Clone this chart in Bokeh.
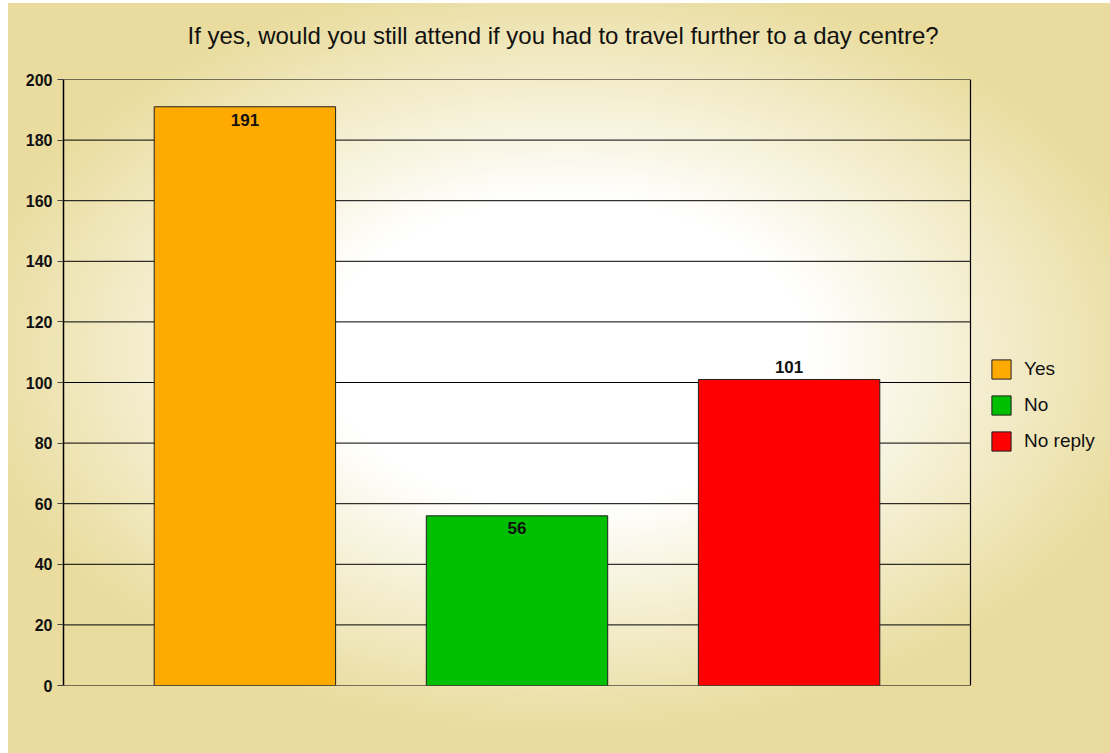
from bokeh.plotting import figure
from bokeh.models import ColumnDataSource, Range1d, FixedTicker, Legend, LegendItem
from bokeh.core.properties import value
from bokeh.embed import file_html
from bokeh.resources import INLINE

title_text = "If yes, would you still attend if you had to travel further to a day centre?"
categories = ["Yes", "No", "No reply"]
counts = [191, 56, 101]
bar_colors = ["#FFAA00", "#00BE00", "#FF0000"]
y_ticks = [0, 20, 40, 60, 80, 100, 120, 140, 160, 180, 200]
label_offsets = [13, 12, -12]

FONT = "Liberation Sans"

# layout (pixels) of the boxed chart area
FIG_W, FIG_H = 1110, 753
BOX_LEFT, BOX_RIGHT, BOX_TOP, BOX_BOTTOM = 63, 970, 79, 685
BAR_W = 2 / 3

x_pos = list(range(len(categories)))
x_lo = -BAR_W / 2 - (1 - BAR_W)
x_hi = (len(categories) - 1) - x_lo
px_per_unit = (BOX_RIGHT - BOX_LEFT) / (x_hi - x_lo)
x_end = x_hi + (FIG_W - BOX_RIGHT) / px_per_unit

source = ColumnDataSource(dict(
    x=x_pos, cat=categories, count=counts, color=bar_colors,
    label=[str(c) for c in counts], dy=label_offsets,
))

p = figure(
    width=FIG_W, height=FIG_H,
    x_range=Range1d(x_lo, x_end),
    y_range=Range1d(y_ticks[0], y_ticks[-1]),
    output_backend="svg", toolbar_location=None,
    min_border_left=BOX_LEFT, min_border_right=0,
    min_border_top=BOX_TOP, min_border_bottom=FIG_H - BOX_BOTTOM,
)

p.styles = {
    "background": ("radial-gradient(ellipse 600px 380px at 558px 350px, "
                   "#ffffff 0%, #ffffff 40%, #e9dc9e 100%) 8px 3px / 1102px 750px no-repeat, #ffffff")
}
p.border_fill_alpha = 0
p.background_fill_alpha = 0
p.outline_line_color = None

p.title.text = title_text + "\n"
p.title.align = "left"
p.title.text_font = FONT
p.title.text_font_size = "24px"
p.title.text_font_style = "normal"
p.title.text_color = "#111111"
p.title.offset = 124
p.title.standoff = 8

# horizontal grid lines, limited to the boxed area
p.segment(x0=x_lo, x1=x_hi, y0=y_ticks, y1=y_ticks, line_color="black", line_width=1)
# right border of the box
p.segment(x0=x_hi, x1=x_hi, y0=y_ticks[0], y1=y_ticks[-1], line_color="black", line_width=1.2)

r = p.vbar(x="x", top="count", width=BAR_W, source=source,
           fill_color="color", line_color="#222222", line_width=1)

p.text(x="x", y="count", text="label", y_offset="dy", source=source,
       text_align="center", text_baseline="middle",
       text_font=value(FONT), text_font_size="17px", text_font_style="bold",
       text_color="#111111")

p.xaxis.visible = False
p.xgrid.visible = False
p.ygrid.visible = False

ax = p.yaxis[0]
ax.ticker = FixedTicker(ticks=y_ticks)
ax.axis_line_color = "black"
ax.axis_line_width = 1.5
ax.major_tick_line_color = "#444444"
ax.major_tick_out = 6
ax.major_tick_in = 0
ax.minor_tick_out = 0
ax.minor_tick_in = 0
ax.major_label_standoff = 5
ax.major_label_text_font = FONT
ax.major_label_text_font_size = "16px"
ax.major_label_text_font_style = "bold"
ax.major_label_text_color = "#111111"

legend = Legend(
    items=[LegendItem(label=value(c), renderers=[r], index=i) for i, c in enumerate(categories)],
    location=(926, 232),
    padding=0, margin=0, spacing=12,
    glyph_width=24, glyph_height=24, label_standoff=11,
    label_text_font=FONT, label_text_font_size="19px", label_text_color="#111111",
    border_line_alpha=0, background_fill_alpha=0,
)
p.add_layout(legend)

open("out.html", "w").write(file_html(p, INLINE))
